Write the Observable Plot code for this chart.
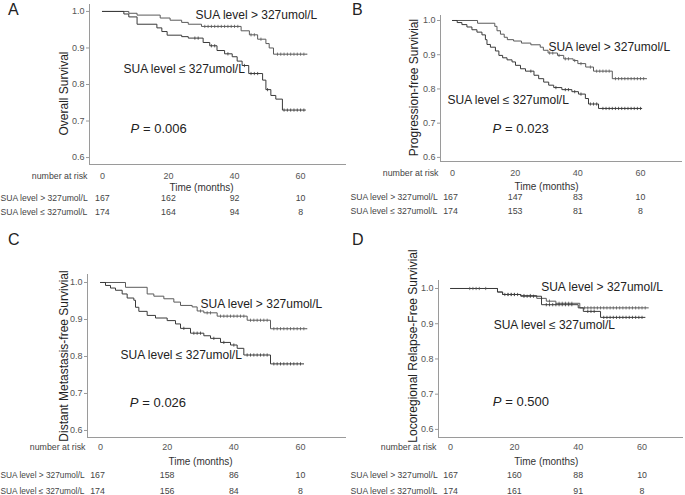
<!DOCTYPE html>
<html><head><meta charset="utf-8">
<script src="https://cdn.jsdelivr.net/npm/d3@7"></script>
<script src="https://cdn.jsdelivr.net/npm/@observablehq/plot@0.6"></script>
<style>
body{margin:0;background:#fff;font-family:"Liberation Sans",Arial,sans-serif;}
#wrap{position:relative;width:685px;height:495px;overflow:hidden;background:#fff;}
.panel{position:absolute;}
.letter{position:absolute;font-size:16px;line-height:16px;color:#222;}
</style></head><body><div id="wrap"></div>
<script>
// ---------- data ----------
const timeTicks = [0, 20, 40, 60];
const survTicks = [0.6, 0.7, 0.8, 0.9, 1.0];
const groupLabels = ["SUA level > 327umol/L", "SUA level ≤ 327umol/L"];
const panelLetters = ["A", "B", "C", "D"];
const yTitles = ["Overall Survival", "Progression-free Survivial", "Distant Metastasis-free Survivial", "Locoregional Relapse-Free Survivial"];
const pValues = ["0.006", "0.023", "0.026", "0.500"];

// A: overall survival
const osHighTime = [0, 8, 10.5, 17.5, 20.5, 24, 26, 30, 42, 44.5, 47, 49.5, 50.5, 51.8, 62];
const osHighSurv = [1, 0.995, 0.99, 0.982, 0.976, 0.970, 0.965, 0.959, 0.947, 0.936, 0.924, 0.912, 0.900, 0.883, 0.883];
const osHighCens = [31, 32, 33, 34, 35, 36, 37, 38, 39, 40, 41, 45, 46, 48, 53, 54, 55, 56, 57, 58, 59, 60, 61];
const osLowTime = [0, 6.5, 8, 10.5, 16.5, 18, 19.6, 24, 26, 30.5, 32.5, 34.7, 37, 39.3, 40.8, 42.3, 44.3, 48.5, 49.5, 51, 52.5, 54.5, 61.5];
const osLowSurv = [1, 0.993, 0.985, 0.965, 0.955, 0.945, 0.935, 0.931, 0.927, 0.915, 0.906, 0.893, 0.884, 0.876, 0.864, 0.852, 0.83, 0.812, 0.786, 0.77, 0.76, 0.73, 0.73];
const osLowCens = [28, 29, 33, 34, 38, 43, 45, 46, 47, 50, 55, 56, 57, 58, 59, 60, 61];
const osRiskHigh = [167, 162, 92, 10];
const osRiskLow = [174, 164, 94, 8];

// B: progression-free survival
const pfsHighTime = [0, 8, 13.5, 14.2, 15.3, 16.5, 17.5, 19.5, 22, 25, 28, 29, 30.5, 33.5, 35.5, 38.5, 40, 42.5, 45, 51, 62];
const pfsHighSurv = [1, 0.992, 0.983, 0.97, 0.96, 0.951, 0.944, 0.94, 0.934, 0.929, 0.922, 0.913, 0.905, 0.898, 0.888, 0.883, 0.874, 0.864, 0.852, 0.83, 0.83];
const pfsHighCens = [31, 32, 34, 36, 37, 39, 41, 44, 46, 47, 48, 49, 50, 52, 53, 54, 55, 56, 57, 58, 59, 60, 61];
const pfsLowTime = [0, 1.5, 3, 4.6, 6.2, 7.8, 9.4, 10.5, 11, 12.1, 13.7, 14.8, 16, 17.4, 19, 20.1, 21.7, 23.3, 26, 27.5, 29.1, 30.7, 32.3, 34.9, 38.1, 40.2, 42.4, 43.4, 46.6, 60.5];
const pfsLowSurv = [1, 0.994, 0.988, 0.981, 0.973, 0.966, 0.958, 0.944, 0.93, 0.922, 0.911, 0.898, 0.891, 0.885, 0.879, 0.869, 0.859, 0.852, 0.84, 0.83, 0.82, 0.811, 0.804, 0.798, 0.792, 0.785, 0.772, 0.756, 0.743, 0.743];
const pfsLowCens = [25, 33, 36, 37, 39, 41, 44, 45, 46, 48, 49, 50, 51, 52, 53, 54, 55, 56, 57, 58, 59, 60];
const pfsRiskHigh = [167, 147, 83, 10];
const pfsRiskLow = [174, 153, 81, 8];

// C: distant metastasis-free survival
const dmfsHighTime = [0, 7.5, 14, 16, 19, 22, 24, 27.5, 29, 31, 35, 44, 51, 62];
const dmfsHighSurv = [1, 0.987, 0.969, 0.963, 0.956, 0.947, 0.938, 0.934, 0.923, 0.918, 0.909, 0.898, 0.875, 0.875];
const dmfsHighCens = [30, 32, 33, 36, 37, 38, 39, 40, 41, 42, 43, 45, 46, 47, 48, 49, 50, 52, 53, 54, 55, 56, 57, 58, 59, 60, 61];
const dmfsLowTime = [0, 1.5, 3, 4.5, 6.5, 8, 10, 10.5, 11.5, 14, 16.5, 20, 22.5, 24, 27, 31, 33, 36, 39, 41, 43, 51, 61];
const dmfsLowSurv = [1, 0.992, 0.985, 0.979, 0.969, 0.958, 0.952, 0.933, 0.922, 0.911, 0.904, 0.897, 0.888, 0.876, 0.863, 0.856, 0.849, 0.838, 0.831, 0.822, 0.804, 0.78, 0.78];
const dmfsLowCens = [25, 28, 29, 30, 34, 37, 40, 44, 45, 46, 47, 48, 49, 50, 52, 53, 54, 55, 56, 57, 58, 59, 60];
const dmfsRiskHigh = [167, 158, 86, 10];
const dmfsRiskLow = [174, 156, 84, 8];

// D: locoregional relapse-free survival
const lrfsHighTime = [0, 14.7, 16.3, 22, 27, 30, 33, 40.5, 62];
const lrfsHighSurv = [1, 0.99, 0.983, 0.98, 0.972, 0.964, 0.958, 0.945, 0.945];
const lrfsHighCens = [6, 7, 8, 9, 11, 18, 19, 20, 23, 25, 31, 34, 35, 36, 37, 38, 42, 43, 44, 45, 46, 47, 48, 49, 50, 51, 52, 53, 54, 55, 56, 57, 58, 59, 60, 61];
const lrfsLowTime = [0, 14.7, 16.3, 22, 28.5, 40, 41.6, 47, 61];
const lrfsLowSurv = [1, 0.99, 0.983, 0.978, 0.954, 0.945, 0.935, 0.918, 0.918];
const lrfsLowCens = [17, 18, 19, 20, 21, 23, 24, 25, 26, 30, 31, 32, 33, 34, 35, 36, 37, 38, 43, 44, 45, 48, 49, 50, 51, 52, 53, 54, 55, 56, 57, 58, 59, 60];
const lrfsRiskHigh = [167, 160, 88, 10];
const lrfsRiskLow = [174, 161, 91, 8];

// ---------- layout (positions / styles) ----------
const FONT = "Liberation Sans, Arial, sans-serif";
const layouts = [
  {left: 0, top: 0, width: 350, height: 240, mL: 89, mR: 4, mT: 4, mB: 76, xd: [-3.9, 73.9], yd: [0.581, 1.019],
   off: [12, 23, 34, 48], yDx: -25, yDy: 9, rowDx: -89, rowFs: 8.6, firstDx: 0,
   hi: [28.2, 0.989], lo: [6.4, 0.841], p: [8.5, 0.679], letter: [8, 1.5]},
  {left: 340, top: 0, width: 345, height: 240, mL: 100, mR: 3, mT: 15, mB: 79, xd: [-3.83, 73.4], yd: [0.588, 1.0146],
   off: [12, 25, 36, 50], yDx: -26, yDy: -1, rowDx: -90, rowFs: 8.6, firstDx: -2,
   hi: [30.6, 0.922], lo: [-1.6, 0.766], p: [12.8, 0.684], letter: [352, 1.5]},
  {left: 0, top: 225, width: 350, height: 270, mL: 87, mR: 4, mT: 49, mB: 58, xd: [-3.9, 73.8], yd: [0.581, 1.0216],
   off: [10, 24, 38, 54], yDx: -23, yDy: 0, rowDx: -87, rowFs: 8.3, firstDx: -3,
   hi: [30, 0.942], lo: [6, 0.803], p: [8.8, 0.676], letter: [8, 232]},
  {left: 340, top: 225, width: 345, height: 270, mL: 98, mR: 2, mT: 55, mB: 58, xd: [-3.79, 73.0], yd: [0.577, 1.0227],
   off: [10, 24, 38, 54], yDx: -25.5, yDy: -13, rowDx: -88, rowFs: 8.6, firstDx: 0,
   hi: [28.4, 1.004], lo: [13.5, 0.895], p: [13.2, 0.678], letter: [352, 232]}
];

const panelsData = [
  {hiT: osHighTime, hiS: osHighSurv, hiC: osHighCens, loT: osLowTime, loS: osLowSurv, loC: osLowCens, rHi: osRiskHigh, rLo: osRiskLow},
  {hiT: pfsHighTime, hiS: pfsHighSurv, hiC: pfsHighCens, loT: pfsLowTime, loS: pfsLowSurv, loC: pfsLowCens, rHi: pfsRiskHigh, rLo: pfsRiskLow},
  {hiT: dmfsHighTime, hiS: dmfsHighSurv, hiC: dmfsHighCens, loT: dmfsLowTime, loS: dmfsLowSurv, loC: dmfsLowCens, rHi: dmfsRiskHigh, rLo: dmfsRiskLow},
  {hiT: lrfsHighTime, hiS: lrfsHighSurv, hiC: lrfsHighCens, loT: lrfsLowTime, loS: lrfsLowSurv, loC: lrfsLowCens, rHi: lrfsRiskHigh, rLo: lrfsRiskLow}
];

const HI_COLOR = "#5a5a5a", LO_COLOR = "#3a3a3a", AXIS = "#9a9a9a", TICKTXT = "#555";

const censorSymbol = {draw(ctx, size) { const r = Math.sqrt(size / Math.PI); ctx.moveTo(0, -r); ctx.lineTo(0, r); }};

function survAt(T, S, t) { let s = S[0]; for (let i = 0; i < T.length; i++) if (T[i] <= t) s = S[i]; return s; }
function curve(T, S) { return T.map((t, i) => ({t, s: S[i]})); }
function cens(T, S, C) { return C.map(t => ({t, s: survAt(T, S, t)})); }

const wrap = document.getElementById("wrap");

layouts.forEach((L, k) => {
  const D = panelsData[k];
  const riskCols = timeTicks.map((t, i) => ({t, hi: D.rHi[i], lo: D.rLo[i], first: i === 0}));
  const tsz = 8.8;
  const plot = Plot.plot({
    width: L.width, height: L.height,
    marginLeft: L.mL, marginRight: L.mR, marginTop: L.mT, marginBottom: L.mB,
    style: {fontFamily: FONT, background: "transparent", overflow: "visible"},
    x: {domain: L.xd, axis: null},
    y: {domain: L.yd, axis: null},
    marks: [
      Plot.ruleX([L.xd[0]], {stroke: AXIS, strokeWidth: 1}),
      Plot.ruleY([L.yd[0]], {stroke: AXIS, strokeWidth: 1}),
      Plot.axisY({ticks: survTicks, tickFormat: d3.format(".1f"), tickSize: 3, tickPadding: 2, fontSize: 9, stroke: AXIS, fill: TICKTXT, label: null}),
      Plot.axisX({ticks: timeTicks, tickSize: 0, tickPadding: L.off[0] - 3.5, fontSize: 9, fill: TICKTXT, label: null}),
      Plot.text([yTitles[k]], {frameAnchor: "left", rotate: -90, dx: L.yDx, dy: L.yDy, fontSize: 12, fill: "#222", lineAnchor: "middle", textAnchor: "middle"}),
      Plot.line(curve(D.hiT, D.hiS), {x: "t", y: "s", curve: "step-after", stroke: HI_COLOR, strokeWidth: 1}),
      Plot.line(curve(D.loT, D.loS), {x: "t", y: "s", curve: "step-after", stroke: LO_COLOR, strokeWidth: 1}),
      Plot.dot(cens(D.hiT, D.hiS, D.hiC), {x: "t", y: "s", symbol: censorSymbol, r: 1.6, stroke: HI_COLOR, fill: "none", strokeWidth: 0.8}),
      Plot.dot(cens(D.loT, D.loS, D.loC), {x: "t", y: "s", symbol: censorSymbol, r: 1.6, stroke: LO_COLOR, fill: "none", strokeWidth: 0.8}),
      Plot.text([groupLabels[0]], {x: () => L.hi[0], y: () => L.hi[1], textAnchor: "start", lineAnchor: "middle", fontSize: 12, fill: "#222"}),
      Plot.text([groupLabels[1]], {x: () => L.lo[0], y: () => L.lo[1], textAnchor: "start", lineAnchor: "middle", fontSize: 12, fill: "#222"}),
      Plot.text(["P"], {x: () => L.p[0], y: () => L.p[1], textAnchor: "start", lineAnchor: "middle", fontSize: 13, fontStyle: "italic", fill: "#222"}),
      Plot.text([pValues[k]], {x: () => L.p[0], y: () => L.p[1], text: d => "= " + d, dx: 12.5, textAnchor: "start", lineAnchor: "middle", fontSize: 13, fill: "#222"}),
      // risk table
      Plot.text(["number at risk"], {frameAnchor: "bottom-left", dx: -2, dy: L.off[0], textAnchor: "end", lineAnchor: "middle", fontSize: tsz, fill: "#444"}),
      Plot.text(["Time (months)"], {frameAnchor: "bottom", x: () => (timeTicks[1] + timeTicks[2]) / 2, dy: L.off[1], textAnchor: "middle", lineAnchor: "middle", fontSize: 10, fill: "#333"}),
      Plot.text([groupLabels[0]], {frameAnchor: "bottom-left", dx: L.rowDx, dy: L.off[2], textAnchor: "start", lineAnchor: "middle", fontSize: L.rowFs, fill: "#444"}),
      Plot.text([groupLabels[1]], {frameAnchor: "bottom-left", dx: L.rowDx, dy: L.off[3], textAnchor: "start", lineAnchor: "middle", fontSize: L.rowFs, fill: "#444"}),
      Plot.text(riskCols.filter(d => d.first), {x: "t", text: "hi", frameAnchor: "bottom", dx: L.firstDx, dy: L.off[2], lineAnchor: "middle", fontSize: tsz, fill: "#444"}),
      Plot.text(riskCols.filter(d => !d.first), {x: "t", text: "hi", frameAnchor: "bottom", dy: L.off[2], lineAnchor: "middle", fontSize: tsz, fill: "#444"}),
      Plot.text(riskCols.filter(d => d.first), {x: "t", text: "lo", frameAnchor: "bottom", dx: L.firstDx, dy: L.off[3], lineAnchor: "middle", fontSize: tsz, fill: "#444"}),
      Plot.text(riskCols.filter(d => !d.first), {x: "t", text: "lo", frameAnchor: "bottom", dy: L.off[3], lineAnchor: "middle", fontSize: tsz, fill: "#444"})
    ]
  });
  const div = document.createElement("div");
  div.className = "panel";
  div.style.left = L.left + "px";
  div.style.top = L.top + "px";
  div.appendChild(plot);
  wrap.appendChild(div);

  const lt = document.createElement("div");
  lt.className = "letter";
  lt.textContent = panelLetters[k];
  lt.style.left = L.letter[0] + "px";
  lt.style.top = L.letter[1] + "px";
  wrap.appendChild(lt);
});
</script>
</body></html>
